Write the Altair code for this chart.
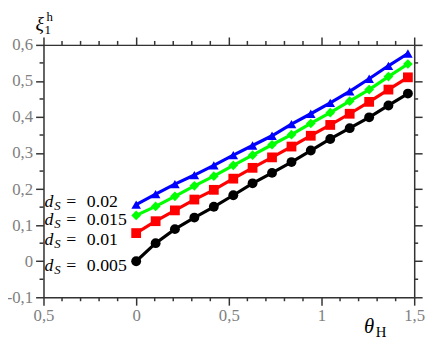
import altair as alt
import pandas as pd

# ---- data ----
theta = [0.0, 0.105, 0.209, 0.314, 0.419, 0.524, 0.628, 0.733, 0.838, 0.942,
         1.047, 1.152, 1.257, 1.361, 1.466]
series_names = ["0.005", "0.01", "0.015", "0.02"]
xi_005 = [0.000, 0.050, 0.089, 0.121, 0.151, 0.183, 0.216, 0.245, 0.275, 0.307,
          0.339, 0.369, 0.399, 0.432, 0.465]
xi_010 = [0.078, 0.111, 0.141, 0.171, 0.198, 0.229, 0.259, 0.288, 0.318, 0.348,
          0.378, 0.409, 0.442, 0.476, 0.510]
xi_015 = [0.127, 0.152, 0.180, 0.209, 0.236, 0.266, 0.294, 0.323, 0.351, 0.382,
          0.412, 0.444, 0.476, 0.512, 0.547]
xi_020 = [0.157, 0.186, 0.214, 0.239, 0.266, 0.294, 0.321, 0.348, 0.380, 0.409,
          0.439, 0.471, 0.506, 0.542, 0.576]

x_major = [-0.5, 0, 0.5, 1, 1.5]
x_major_labels = ["0,5", "0", "0,5", "1", "1,5"]
y_major = [-0.1, 0, 0.1, 0.2, 0.3, 0.4, 0.5, 0.6]
y_major_labels = ["-0,1", "0", "0,1", "0,2", "0,3", "0,4", "0,5", "0,6"]
x_minor = [-0.4, -0.3, -0.2, -0.1, 0.1, 0.2, 0.3, 0.4, 0.6, 0.7, 0.8, 0.9,
           1.1, 1.2, 1.3, 1.4]
y_minor = [-0.05, 0.05, 0.15, 0.25, 0.35, 0.45, 0.55]

rows = []
for name, vals in zip(series_names, [xi_005, xi_010, xi_015, xi_020]):
    for t, v in zip(theta, vals):
        rows.append({"theta": t, "xi": v, "series": name})
df = pd.DataFrame(rows)
xminor_df = pd.DataFrame({"v": x_minor})
yminor_df = pd.DataFrame({"v": y_minor})

W, H = 376, 256
FONT = "Liberation Serif"
AX = "#333333"
LAB = "#808080"


def label_expr(vals, labs):
    expr = "''"
    for v, l in reversed(list(zip(vals, labs))):
        expr = f"abs(datum.value - ({v})) < 1e-6 ? '{l}' : ({expr})"
    return expr


def make_axis(orient, majors, labs, show_labels):
    kw = dict(
        orient=orient, values=majors, title=None, grid=False,
        domainColor=AX, domainWidth=1.5, tickColor=AX, tickWidth=1.5, tickSize=8,
        labelFont=FONT, labelFontSize=17, labelColor=LAB,
    )
    if show_labels:
        kw.update(labelExpr=label_expr(majors, labs), labelPadding=3,
                  labelFlush=False, labelOverlap=False)
    else:
        kw.update(labels=False)
    return alt.Axis(**kw)


xscale = alt.Scale(domain=[-0.5, 1.5], nice=False, zero=False)
yscale = alt.Scale(domain=[-0.1, 0.6], nice=False, zero=False)
color_scale = alt.Scale(domain=series_names, range=["#000000", "#ff0000", "#00ff00", "#0000ff"])
shape_scale = alt.Scale(domain=series_names, range=["circle", "square", "diamond", "triangle-up"])
size_scale = alt.Scale(domain=series_names, range=[100, 95, 165, 190])

base = alt.Chart(df)
lines = base.mark_line(strokeWidth=3.2).encode(
    x=alt.X("theta:Q", scale=xscale, axis=make_axis("bottom", x_major, x_major_labels, True)),
    y=alt.Y("xi:Q", scale=yscale, axis=make_axis("left", y_major, y_major_labels, True)),
    color=alt.Color("series:N", scale=color_scale, legend=None),
    detail="series:N",
)
points = base.mark_point(filled=True, opacity=1).encode(
    x=alt.X("theta:Q", scale=xscale, axis=make_axis("top", x_major, x_major_labels, False)),
    y=alt.Y("xi:Q", scale=yscale, axis=make_axis("right", y_major, y_major_labels, False)),
    color=alt.Color("series:N", scale=color_scale, legend=None),
    shape=alt.Shape("series:N", scale=shape_scale, legend=None),
    size=alt.Size("series:N", scale=size_scale, legend=None),
)

# minor ticks on all four sides
rule_style = dict(color=AX, strokeWidth=1.5)
minor = [
    alt.Chart(xminor_df).mark_rule(**rule_style).encode(
        x=alt.X("v:Q", scale=xscale, axis=None), y=alt.value(H), y2=alt.value(H + 4)),
    alt.Chart(xminor_df).mark_rule(**rule_style).encode(
        x=alt.X("v:Q", scale=xscale, axis=None), y=alt.value(0), y2=alt.value(-4)),
    alt.Chart(yminor_df).mark_rule(**rule_style).encode(
        y=alt.Y("v:Q", scale=yscale, axis=None), x=alt.value(0), x2=alt.value(-4)),
    alt.Chart(yminor_df).mark_rule(**rule_style).encode(
        y=alt.Y("v:Q", scale=yscale, axis=None), x=alt.value(W), x2=alt.value(W + 4)),
]

layers = [lines, points] + minor

# series annotations d_S = ...
ann_text = ["0.02", "0.015", "0.01", "0.005"]
ann_base = [164, 183, 203, 229]
for txt, by in zip(ann_text, ann_base):
    common = dict(font=FONT, baseline="alphabetic", align="left", color="#000000")
    layers.append(alt.Chart().mark_text(text="d", fontSize=18, fontStyle="italic", **common)
                  .encode(x=alt.value(1), y=alt.value(by)))
    layers.append(alt.Chart().mark_text(text="S", fontSize=13, fontStyle="italic", **common)
                  .encode(x=alt.value(11), y=alt.value(by + 3)))
    layers.append(alt.Chart().mark_text(text="=", fontSize=18, **common)
                  .encode(x=alt.value(23), y=alt.value(by)))
    layers.append(alt.Chart().mark_text(text=txt, fontSize=18, **common)
                  .encode(x=alt.value(44), y=alt.value(by)))

# axis titles
tcommon = dict(font=FONT, baseline="alphabetic", align="left", color="#000000")
layers.append(alt.Chart().mark_text(text="ξ", fontSize=20, fontStyle="italic", **tcommon)
              .encode(x=alt.value(-8), y=alt.value(-15)))
layers.append(alt.Chart().mark_text(text="1", fontSize=13, **tcommon)
              .encode(x=alt.value(1), y=alt.value(-11)))
layers.append(alt.Chart().mark_text(text="h", fontSize=13, **tcommon)
              .encode(x=alt.value(3), y=alt.value(-24)))
layers.append(alt.Chart().mark_text(text="θ", fontSize=21, fontStyle="italic", **tcommon)
              .encode(x=alt.value(325), y=alt.value(292)))
layers.append(alt.Chart().mark_text(text="H", fontSize=15, **tcommon)
              .encode(x=alt.value(337), y=alt.value(296)))

chart = alt.layer(*layers).resolve_axis(x="independent", y="independent").properties(
    width=W, height=H,
    autosize=alt.AutoSizeParams(type="none"),
    padding={"left": 36, "top": 35, "right": 14, "bottom": 46},
).configure_view(stroke=None).configure(background="white")

chart.save("out.html", embed_options={"renderer": "svg", "actions": False})
